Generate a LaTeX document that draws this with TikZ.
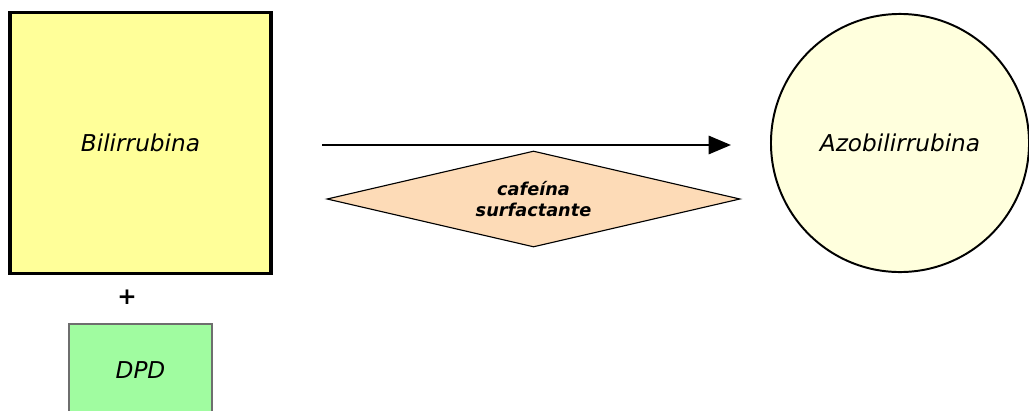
\documentclass[tikz,border=0pt]{standalone}
\usepackage{fontspec}
\setmainfont{DejaVu Sans}
\usepackage{xcolor}
\usetikzlibrary{shapes.geometric,arrows.meta}

\definecolor{bilifill}{RGB}{255,255,153}
\definecolor{azofill}{RGB}{255,255,221}
\definecolor{catfill}{RGB}{253,219,183}
\definecolor{dpdfill}{RGB}{160,252,160}
\definecolor{dpdline}{RGB}{110,110,110}

\tikzset{
    reagent/.style={draw,line width=2.2pt,fill=bilifill,minimum size=6.525cm,inner sep=0pt,font=\fontsize{16.5}{19}\selectfont\itshape},
    product/.style={draw,circle,line width=1.4pt,fill=azofill,minimum size=6.45cm,inner sep=0pt,font=\fontsize{16.5}{19}\selectfont\itshape},
    catalyst/.style={draw,diamond,shape aspect=4.3,line width=0.8pt,fill=catfill,minimum width=10.325cm,minimum height=2.4cm,inner sep=0pt,align=center,font=\fontsize{12.6}{14.5}\selectfont\bfseries\itshape},
    dpdbox/.style={draw=dpdline,line width=1pt,fill=dpdfill,minimum width=3.575cm,minimum height=2.3cm,inner sep=0pt,font=\fontsize{16.5}{19}\selectfont\itshape}
}

\begin{document}
\begin{tikzpicture}[x=0.025cm,y=0.025cm]
    \useasboundingbox (0,0) rectangle (1029,410);
    \clip (0,0) rectangle (1029,410);
    \node[reagent] (bili) at (140.5,267) {Bilirrubina};
    \node[font=\fontsize{16.5}{19}\selectfont\bfseries] (plus) at (127,113) {+};
    \node[dpdbox] (dpd) at (140.5,40) {DPD};
    \node[product] (azo) at (900,267) {Azobilirrubina};
    \node[catalyst] (cat) at (533.5,211) {cafeína\\surfactante};
    \coordinate (arrfrom) at (322,265);
    \coordinate (arrto) at (731,265);
    \draw[-{Triangle[length=16pt,width=13pt]},line width=1.8pt] (arrfrom) to (arrto);
\end{tikzpicture}
\end{document}
